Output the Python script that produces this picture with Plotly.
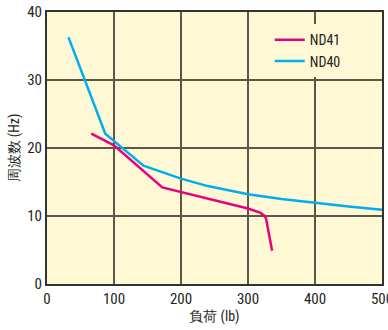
import plotly.graph_objects as go

nd41_x = [66, 100, 172, 200, 250, 300, 318, 324, 327, 336]
nd41_y = [22.1, 20.4, 14.2, 13.5, 12.3, 11.1, 10.5, 10.1, 9.6, 4.9]
nd40_x = [32, 87, 144, 170, 200, 240, 300, 350, 400, 450, 500]
nd40_y = [36.3, 22.1, 17.4, 16.5, 15.5, 14.4, 13.2, 12.5, 11.9, 11.4, 10.9]

FONT = "Liberation Sans Narrow, Roboto Condensed, Arial Narrow, Roboto, sans-serif"
BG = "#fff8d5"
GRID = "#5e5648"

fig = go.Figure()
fig.add_trace(go.Scatter(x=nd41_x, y=nd41_y, mode="lines", name="ND41",
                         line=dict(color="#e8007d", width=2.5)))
fig.add_trace(go.Scatter(x=nd40_x, y=nd40_y, mode="lines", name="ND40",
                         line=dict(color="#00aeef", width=2.5)))

fig.update_layout(
    width=388, height=330,
    margin=dict(l=47, r=6, t=12, b=46, autoexpand=False),
    paper_bgcolor="white", plot_bgcolor=BG,
    font=dict(family=FONT, size=15, color="#231f20"),
    showlegend=True,
    legend=dict(x=0.665, y=0.955, xanchor="left", yanchor="top",
                bgcolor=BG, font=dict(size=14), tracegroupgap=0,
                itemwidth=30),
    xaxis=dict(range=[0, 500], tickvals=[0, 100, 200, 300, 400, 500],
               showgrid=True, gridcolor=GRID, gridwidth=1.5,
               showline=True, linecolor="#333", linewidth=2, mirror=True,
               zeroline=False, ticks="", ticklen=0, ticklabeloverflow="allow",
               automargin=False,
               title=dict(text="負荷 (lb)", font=dict(size=14), standoff=2)),
    yaxis=dict(range=[0, 40], tickvals=[0, 10, 20, 30, 40],
               showgrid=True, gridcolor=GRID, gridwidth=1.5,
               showline=True, linecolor="#333", linewidth=2, mirror=True,
               zeroline=False, ticks="", automargin=False,
               title=dict(text="周波数 (Hz)", font=dict(size=14), standoff=4)),
)

fig.write_html("out.html")
